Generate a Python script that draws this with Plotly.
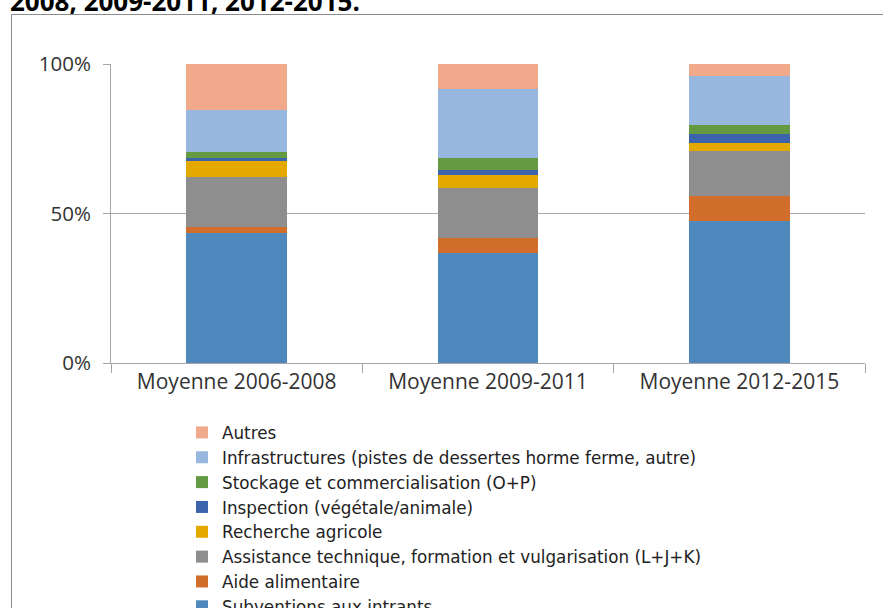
import plotly.graph_objects as go

categories = ["Moyenne 2006-2008", "Moyenne 2009-2011", "Moyenne 2012-2015"]

series_names = [
    "Subventions aux intrants",
    "Aide alimentaire",
    "Assistance technique, formation et vulgarisation (L+J+K)",
    "Recherche agricole",
    "Inspection (végétale/animale)",
    "Stockage et commercialisation (O+P)",
    "Infrastructures (pistes de dessertes horme ferme, autre)",
    "Autres",
]

subventions = [43.5, 36.7, 47.4]
aide = [2.1, 5.0, 8.6]
assistance = [16.7, 16.9, 15.0]
recherche = [5.3, 4.3, 2.5]
inspection = [0.9, 1.7, 3.0]
stockage = [2.1, 3.8, 3.0]
infrastructures = [14.1, 23.2, 16.4]
autres = [15.3, 8.4, 4.1]

series_values = [subventions, aide, assistance, recherche, inspection, stockage, infrastructures, autres]

colors = ["#4F88BD", "#D26E2B", "#8E8E8E", "#E4A900", "#3B64AD", "#639A42", "#97B7DE", "#F1A98B"]

tick_vals = [0, 50, 100]
tick_text = ["0%", "50%", "100%"]

title_text = "2008, 2009-2011, 2012-2015."

fig = go.Figure()
for name, vals, col in zip(series_names, series_values, colors):
    fig.add_trace(go.Bar(x=categories, y=vals, name=name, marker=dict(color=col, line=dict(width=0))))

W, H = 883, 608
L, R, T, B = 111, 18, 64, 245
pw, ph = W - L - R, H - T - B

def px_x(p):
    return (p - L) / pw

def px_y(p):
    return (H - B - p) / ph

fig.update_layout(
    width=W, height=H,
    barmode="stack",
    bargap=0.6,
    paper_bgcolor="white",
    plot_bgcolor="white",
    margin=dict(l=L, r=R, t=T, b=B, autoexpand=False),
    font=dict(family="Open Sans", color="#404040"),
    showlegend=True,
    legend=dict(
        traceorder="reversed",
        orientation="v",
        x=px_x(182), y=px_y(415), xanchor="left", yanchor="top",
        font=dict(size=16.8, color="#222222", family="DejaVu Sans"),
        bgcolor="rgba(0,0,0,0)",
        itemwidth=30,
        tracegroupgap=0,
    ),
    xaxis=dict(
        type="category",
        tickson="boundaries",
        ticks="outside", ticklen=9, tickcolor="#A6A6A6", tickwidth=1,
        showline=True, linecolor="#A6A6A6", linewidth=1,
        showgrid=False,
        tickfont=dict(size=21, color="#333333"),
    ),
    yaxis=dict(
        range=[0, 100],
        tickvals=tick_vals, ticktext=tick_text,
        ticks="outside", ticklen=7, tickcolor="#A6A6A6", tickwidth=1,
        showline=True, linecolor="#A6A6A6", linewidth=1,
        showgrid=True, gridcolor="#A6A6A6", gridwidth=1,
        zeroline=False,
        tickfont=dict(size=20.5, color="#333333"),
        ticklabelstandoff=8,
    ),
    shapes=[
        dict(type="rect", xref="paper", yref="paper",
             x0=px_x(11.5), x1=px_x(900), y0=px_y(14.5), y1=px_y(700),
             line=dict(color="#8C8C8C", width=1), fillcolor="rgba(0,0,0,0)", layer="below"),
    ],
    annotations=[
        dict(text="<b>" + title_text + "</b>", xref="paper", yref="paper",
             x=px_x(8), y=px_y(21), xanchor="left", yanchor="bottom",
             showarrow=False, font=dict(size=26, color="#000000", family="Open Sans")),
    ],
)

fig.write_html(
    "out.html",
    config={"displayModeBar": False},
    post_script="document.body.style.margin='0';document.body.style.overflow='hidden';",
)
